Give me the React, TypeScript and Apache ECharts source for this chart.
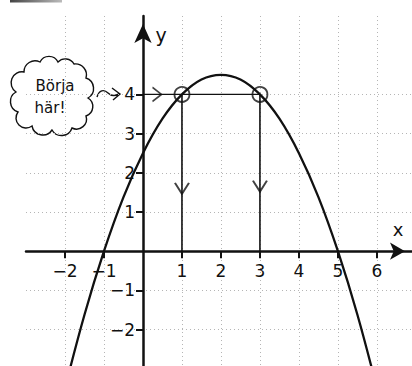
import { useEffect, useRef } from "react";
import * as echarts from "echarts";

// Tick labels shown on each axis
const xTickValues = [-2, -1, 1, 2, 3, 4, 5, 6];
const yTickValues = [-2, -1, 1, 2, 3, 4];

// Parabola
const curveX = [-2, -1.5, -1, -0.5, 0, 0.5, 1, 1.5, 2, 2.5, 3, 3.5, 4, 4.5, 5, 5.5, 6];
const curveY = [-3.5, -1.62, 0, 1.38, 2.5, 3.38, 4, 4.38, 4.5, 4.38, 4, 3.38, 2.5, 1.38, 0, -1.62, -3.5];

// Marked points and guide lines
const startPoints = [[1, 4], [3, 4]];
const guideH = [[0, 4], [3, 4]];
const guideV1 = [[1, 4], [1, 0]];
const guideV2 = [[3, 4], [3, 0]];
const arrowDown = [[1, 1.6], [3, 1.66]];
const arrowRight = [[0.36, 4]];

const bubbleLines = ["Börja", "här!"];
const xName = "x";
const yName = "y";

const cloudPath =
  "M24 72 A11 11 0 0 1 40 62 A10 10 0 0 1 58 62 A10 10 0 0 1 74 64 A11 11 0 0 1 86 78 " +
  "A11 11 0 0 1 88 98 A10 10 0 0 1 86 116 A10 10 0 0 1 72 128 A11 11 0 0 1 52 130 " +
  "A11 11 0 0 1 32 126 A10 10 0 0 1 18 112 A11 11 0 0 1 16 92 A11 11 0 0 1 24 72 Z";
const squigglePath =
  "M97 97 C99 90 104 89 108 93 C111 96 115 96 119 94 M112 88 L120 94 L113 100";

let registered = false;
function registerShapes() {
  if (registered) return;
  registered = true;
  echarts.graphic.registerShape("cloud", echarts.graphic.extendPath(cloudPath, {}));
  echarts.graphic.registerShape("squiggle", echarts.graphic.extendPath(squigglePath, {}));
}

const FONT = "DejaVu Sans";
const INK = "#111";

// grid geometry (pixels)
const GRID_LEFT = 26;
const GRID_TOP = 16;
const GRID_W = 386;
const GRID_H = 352.8;
const X_MIN = -3;
const X_MAX = 6.9;
const Y_MIN = -3;
const Y_MAX = 6;

export default function App() {
  const ref = useRef<HTMLDivElement>(null);
  useEffect(() => {
    if (!ref.current) return;
    registerShapes();
    const chart = echarts.init(ref.current, undefined, { renderer: "svg" });
    const fmt = (v: number) => (v < 0 ? "\u2212" + Math.abs(v) : String(v));
    // shift axes from grid edges to the zero lines
    const yAxisOffset = -((0 - X_MIN) / (X_MAX - X_MIN)) * GRID_W;
    const xAxisOffset = -((0 - Y_MIN) / (Y_MAX - Y_MIN)) * GRID_H;
    chart.setOption({
      animation: false,
      backgroundColor: "#fff",
      grid: {
        left: GRID_LEFT,
        top: GRID_TOP,
        width: GRID_W,
        height: GRID_H,
        containLabel: false,
        outerBoundsMode: "none",
      },
      xAxis: {
        type: "value",
        min: X_MIN,
        max: X_MAX,
        interval: 1,
        position: "bottom",
        offset: xAxisOffset,
        axisLine: {
          onZero: false,
          symbol: ["none", "arrow"],
          symbolSize: [13, 15],
          symbolOffset: [0, -7],
          lineStyle: { color: INK, width: 2.5 },
        },
        axisTick: { customValues: xTickValues, length: 7, lineStyle: { color: INK, width: 2 } },
        axisLabel: {
          customValues: xTickValues,
          formatter: fmt,
          margin: 11,
          color: INK,
          fontSize: 17,
          fontFamily: FONT,
        },
        splitLine: { show: true, lineStyle: { color: "#b5b5b5", type: [1, 3], width: 1 } },
      },
      yAxis: {
        type: "value",
        min: Y_MIN,
        max: Y_MAX,
        interval: 1,
        position: "left",
        offset: yAxisOffset,
        axisLine: {
          onZero: false,
          symbol: ["none", "arrow"],
          symbolSize: [13, 19],
          symbolOffset: [0, -8],
          lineStyle: { color: INK, width: 2.5 },
        },
        axisTick: { customValues: yTickValues, length: 7, lineStyle: { color: INK, width: 2 } },
        axisLabel: {
          customValues: yTickValues,
          formatter: fmt,
          margin: 8,
          color: INK,
          fontSize: 17,
          fontFamily: FONT,
        },
        splitLine: { show: true, lineStyle: { color: "#b5b5b5", type: [1, 3], width: 1 } },
      },
      series: [
        {
          type: "line",
          data: curveX.map((x, i) => [x, curveY[i]]),
          smooth: 0.4,
          symbol: "none",
          lineStyle: { color: INK, width: 2.3 },
          z: 5,
        },
        {
          type: "line",
          data: guideH,
          symbol: "none",
          lineStyle: { color: INK, width: 1.3 },
        },
        {
          type: "line",
          data: guideV1,
          symbol: "none",
          lineStyle: { color: INK, width: 1.6 },
        },
        {
          type: "line",
          data: guideV2,
          symbol: "none",
          lineStyle: { color: INK, width: 1.6 },
        },
        {
          type: "scatter",
          data: startPoints,
          symbol: "circle",
          symbolSize: 15,
          itemStyle: { color: "rgba(0,0,0,0)", borderColor: INK, borderWidth: 1.8 },
          z: 6,
        },
        {
          type: "scatter",
          data: arrowDown,
          symbol: "path://M0,0 L7,10 L14,0",
          symbolSize: [14, 11],
          itemStyle: { color: "rgba(0,0,0,0)", borderColor: INK, borderWidth: 1.8 },
          z: 6,
        },
        {
          type: "scatter",
          data: arrowRight,
          symbol: "path://M0,0 L10,7 L0,14",
          symbolSize: [9, 14],
          itemStyle: { color: "rgba(0,0,0,0)", borderColor: INK, borderWidth: 1.5 },
          z: 6,
        },
      ],
      graphic: [
        {
          type: "rect",
          shape: { x: 10, y: 0, width: 52, height: 2.5 },
          style: {
            fill: new echarts.graphic.LinearGradient(0, 0, 1, 0, [
              { offset: 0, color: "#444" },
              { offset: 1, color: "#bbb" },
            ]),
          },
        },
        {
          type: "cloud",
          x: 0,
          y: 0,
          style: { fill: "none", stroke: INK, lineWidth: 1.4 },
        },
        {
          type: "squiggle",
          x: 0,
          y: 0,
          style: { fill: "none", stroke: INK, lineWidth: 1.4 },
        },
        {
          type: "text",
          x: 55,
          y: 86,
          style: {
            text: bubbleLines[0],
            fill: INK,
            font: "15px 'DejaVu Sans'",
            align: "center",
            verticalAlign: "middle",
          },
        },
        {
          type: "text",
          x: 50,
          y: 108,
          style: {
            text: bubbleLines[1],
            fill: INK,
            font: "15px 'DejaVu Sans'",
            align: "center",
            verticalAlign: "middle",
          },
        },
        {
          type: "text",
          x: 161,
          y: 35,
          style: {
            text: yName,
            fill: INK,
            font: "19px 'DejaVu Sans'",
            align: "center",
            verticalAlign: "middle",
          },
        },
        {
          type: "text",
          x: 398,
          y: 229,
          style: {
            text: xName,
            fill: INK,
            font: "18px 'DejaVu Sans'",
            align: "center",
            verticalAlign: "middle",
          },
        },
      ],
    });
    return () => chart.dispose();
  }, []);
  return (
    <div
      ref={ref}
      style={{ position: "fixed", left: 0, top: 0, width: 412, height: 366, background: "#fff" }}
    />
  );
}
